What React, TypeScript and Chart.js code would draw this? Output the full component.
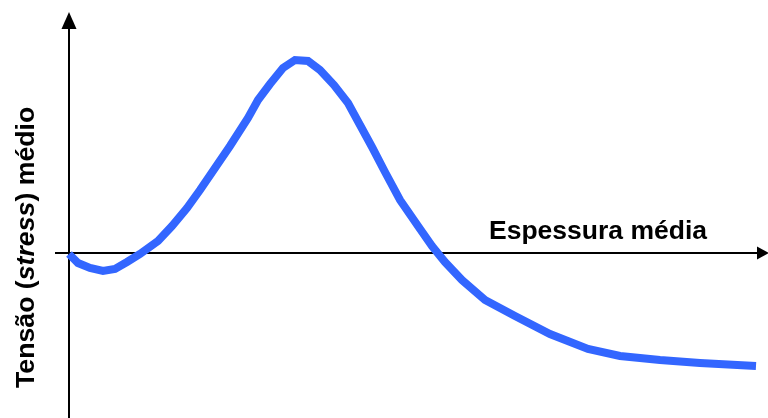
import React, { useEffect, useRef } from "react";
import { Chart, registerables } from "chart.js";

Chart.register(...registerables);

// Espessura média (thickness) and tensão média (stress), origin at axes crossing
const thickness = [0, 9, 21, 34, 46, 58, 71, 89, 103, 118, 131, 146, 161, 179, 189, 201, 214, 226, 239, 251, 265, 279, 291, 303, 316, 331, 349, 363, 376, 393, 416, 446, 481, 519, 551, 591, 631, 687];
const stress = [-1, -10, -15, -18, -16, -9, -1, 12, 27, 45, 63, 85, 107, 135, 153, 169, 185, 193, 192, 183, 168, 150, 128, 106, 81, 53, 27, 7, -9, -27, -47, -63, -81, -96, -103, -107, -110, -113];

const xLabel = "Espessura média";
const yLabelParts = [
  { text: "Tensão (", italic: false },
  { text: "stress", italic: true },
  { text: ") médio", italic: false },
];

const axesPlugin = {
  id: "arrowAxes",
  beforeDatasetsDraw(chart: any) {
    const { ctx, scales } = chart;
    const x0 = Math.round(scales.x.getPixelForValue(0));
    const y0 = Math.round(scales.y.getPixelForValue(0));
    const W = chart.width;
    const H = chart.height;
    ctx.save();
    ctx.strokeStyle = "#000";
    ctx.fillStyle = "#000";
    ctx.lineWidth = 2;
    // y axis
    ctx.beginPath();
    ctx.moveTo(x0, H);
    ctx.lineTo(x0, 27);
    ctx.stroke();
    ctx.beginPath();
    ctx.moveTo(x0, 12);
    ctx.lineTo(x0 - 7.5, 29);
    ctx.lineTo(x0 + 7.5, 29);
    ctx.closePath();
    ctx.fill();
    // x axis
    ctx.beginPath();
    ctx.moveTo(55, y0);
    ctx.lineTo(W - 10, y0);
    ctx.stroke();
    ctx.beginPath();
    ctx.moveTo(W + 1, y0);
    ctx.lineTo(W - 11, y0 - 6.5);
    ctx.lineTo(W - 11, y0 + 6.5);
    ctx.closePath();
    ctx.fill();

    // x label
    ctx.font = "bold 26.5px 'Liberation Sans', Arial, sans-serif";
    ctx.textBaseline = "alphabetic";
    ctx.textAlign = "left";
    ctx.fillText(xLabel, 489, 239);

    // y label (rotated)
    ctx.translate(34, 388);
    ctx.rotate(-Math.PI / 2);
    let cx = 0;
    for (const p of yLabelParts) {
      ctx.font = (p.italic ? "italic " : "") + "bold 26.7px 'Liberation Sans', Arial, sans-serif";
      ctx.fillText(p.text, cx, 0);
      cx += ctx.measureText(p.text).width;
    }
    ctx.restore();
  },
};

export default function App() {
  const ref = useRef<HTMLCanvasElement>(null);
  useEffect(() => {
    if (!ref.current) return;
    const chart = new Chart(ref.current, {
      type: "scatter",
      data: {
        datasets: [
          {
            data: thickness.map((t, i) => ({ x: t, y: stress[i] })),
            showLine: true,
            borderColor: "#3366FF",
            borderWidth: 8,
            pointRadius: 0,
            tension: 0,
            fill: false,
            clip: false as any,
          },
        ],
      },
      options: {
        animation: false,
        responsive: false,
        devicePixelRatio: 1,
        layout: { padding: 0 },
        plugins: { legend: { display: false }, tooltip: { enabled: false } },
        scales: {
          x: { type: "linear", min: -69, max: 699, display: false },
          y: { type: "linear", min: -165, max: 253, display: false },
        },
      },
      plugins: [axesPlugin],
    });
    return () => chart.destroy();
  }, []);
  return (
    <div style={{ position: "fixed", left: 0, top: 0, width: 768, height: 418, background: "#fff" }}>
      <canvas ref={ref} width={768} height={418} />
    </div>
  );
}
